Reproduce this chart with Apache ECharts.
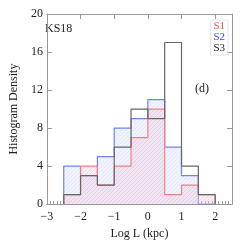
<!DOCTYPE html>
<html><head><meta charset="utf-8">
<script src="https://cdn.jsdelivr.net/npm/echarts@6/dist/echarts.min.js"></script>
<style>html,body{margin:0;padding:0;background:#fff}#c{width:248px;height:245px}</style>
</head><body><div id="c"></div>
<script>
var binEdges = [-2.5,-2,-1.5,-1,-0.5,0,0.5,1,1.5,2];
var s1 = [1,4,2,4,7,10,1,2,1];
var s2 = [4,3,5,8,9,11,6,3,0];
var s3 = [1,3,2,6,10,9,17,4,1];
var xTicks = [-3,-2,-1,0,1,2];
var yTicks = [0,4,8,12,16,20];

function steps(vals){
  var pts=[[binEdges[0],0]];
  for(var i=0;i<vals.length;i++){pts.push([binEdges[i],vals[i]]);pts.push([binEdges[i+1],vals[i]]);}
  pts.push([binEdges[binEdges.length-1],0]);
  return pts;
}
function hatch(bg, line){
  var c=document.createElement('canvas');c.width=4;c.height=4;
  var g=c.getContext('2d');g.fillStyle=bg;g.fillRect(0,0,4,4);
  g.strokeStyle=line;g.lineWidth=0.8;
  g.beginPath();g.moveTo(0,4);g.lineTo(4,0);g.moveTo(-2,2);g.lineTo(2,-2);g.moveTo(2,6);g.lineTo(6,2);g.stroke();
  return c;
}
var font='"Liberation Serif", "DejaVu Serif", serif';
var axisCol='#999';
var chart=echarts.init(document.getElementById('c'),null,{renderer:'canvas'});
chart.setOption({
  animation:false,
  textStyle:{fontFamily:font},
  grid:{left:33,right:16,top:14,bottom:36},
  xAxis:[{
    type:'value',min:-3,max:2.5,interval:1,position:'bottom',
    axisLine:{show:true,onZero:false,lineStyle:{color:axisCol}},
    axisTick:{show:true,inside:true,length:5,lineStyle:{color:axisCol}},
    minorTick:{show:true,splitNumber:10,length:3,lineStyle:{color:axisCol}},
    splitLine:{show:false},
    axisLabel:{color:'#222',fontSize:12,fontFamily:font,margin:7,
      formatter:function(v){return xTicks.indexOf(v)>=0?String(v).replace('-','\u2212'):'';}},
    name:'Log L (kpc)',nameLocation:'middle',nameGap:20,
    nameTextStyle:{color:'#222',fontSize:12,fontFamily:font}
  },{
    type:'value',min:-3,max:2.5,interval:1,position:'top',
    axisLine:{show:true,onZero:false,lineStyle:{color:axisCol}},
    axisTick:{show:true,inside:true,length:5,lineStyle:{color:axisCol}},
    axisLabel:{show:false},splitLine:{show:false}
  }],
  yAxis:[{
    type:'value',min:0,max:20,interval:4,position:'left',
    axisLine:{show:true,onZero:false,lineStyle:{color:axisCol}},
    axisTick:{show:true,inside:true,length:5,lineStyle:{color:axisCol}},
    splitLine:{show:false},
    axisLabel:{color:'#222',fontSize:12,fontFamily:font,margin:4,
      formatter:function(v){return yTicks.indexOf(v)>=0?String(v):'';}},
    name:'Histogram Density',nameLocation:'middle',nameGap:20,
    nameTextStyle:{color:'#222',fontSize:12,fontFamily:font}
  },{
    type:'value',min:0,max:20,interval:4,position:'right',
    axisLine:{show:true,onZero:false,lineStyle:{color:axisCol}},
    axisTick:{show:true,inside:true,length:5,lineStyle:{color:axisCol}},
    axisLabel:{show:false},splitLine:{show:false}
  }],
  legend:{
    orient:'vertical',right:20,top:20,itemGap:0,itemWidth:0,itemHeight:0,icon:'none',
    padding:[1,3,1,3],borderColor:'#e4e4e4',borderWidth:1,
    textStyle:{fontFamily:font,fontSize:11,padding:[0,0,0,-5]},
    data:[{name:'S1',textStyle:{color:'#f05050'}},{name:'S2',textStyle:{color:'#3050f0'}},{name:'S3',textStyle:{color:'#222'}}]
  },
  graphic:[
    {type:'text',left:45,top:23,style:{text:'KS18',font:'12px '+font,fill:'#222'}},
    {type:'text',left:195,top:83,style:{text:'(d)',font:'12px '+font,fill:'#222'}}
  ],
  series:[
    {name:'S2',type:'line',data:steps(s2),symbol:'none',z:2,
     lineStyle:{color:'#6a86f2',width:1.2},itemStyle:{color:'#3050f0'},
     areaStyle:{color:{image:hatch('#f0f2fd','#dfe4f9'),repeat:'repeat'},opacity:1}},
    {name:'S1',type:'line',data:steps(s1),symbol:'none',z:3,
     lineStyle:{color:'#f08080',width:1.2},itemStyle:{color:'#f05050'},
     areaStyle:{color:{image:hatch('rgba(240,205,220,0.35)','rgba(225,185,205,0.5)'),repeat:'repeat'},opacity:1}},
    {name:'S3',type:'line',data:steps(s3),symbol:'none',z:4,
     lineStyle:{color:'#666',width:1.2},itemStyle:{color:'#222'}}
  ]
});
</script></body></html>
